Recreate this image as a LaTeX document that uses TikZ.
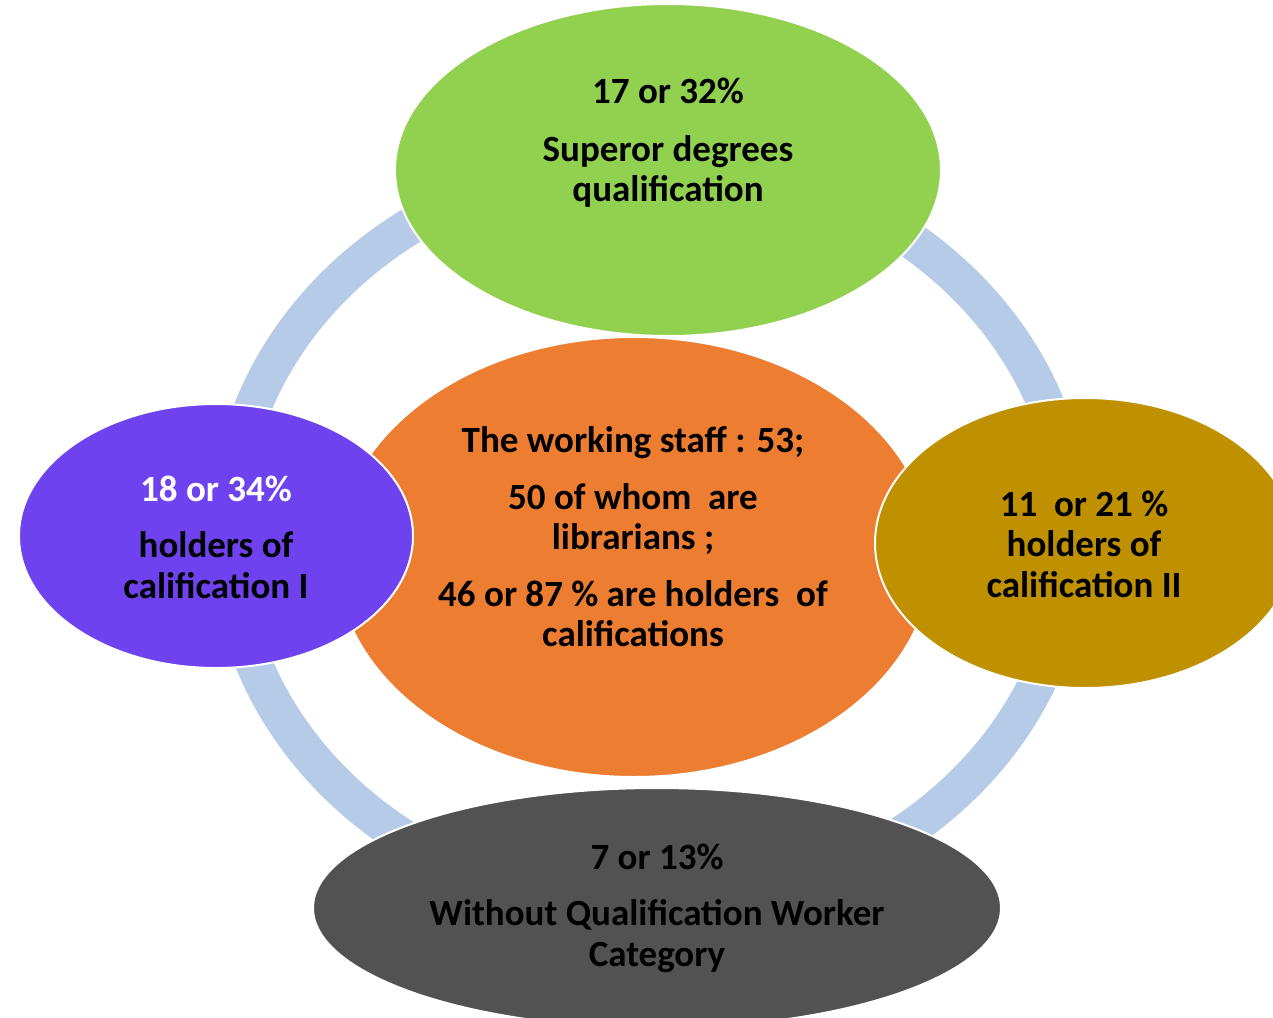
\documentclass[tikz,border=0pt]{standalone}
\usepackage{fontspec}
\setmainfont{Carlito}
\usetikzlibrary{shapes.geometric}
\definecolor{ringblue}{HTML}{B6CBE7}
\definecolor{cgreen}{HTML}{92D050}
\definecolor{corange}{HTML}{ED7D31}
\definecolor{cpurple}{HTML}{6F42EF}
\definecolor{cgold}{HTML}{BF9000}
\definecolor{cgray}{HTML}{525252}
\tikzset{
  bubble/.style={ellipse, draw=white, line width=2pt, inner sep=0pt},
  txt/.style={align=center, font=\bfseries\fontsize{37}{40.5}\selectfont, text=black, inner sep=0pt},
}
\begin{document}
\begin{tikzpicture}[x=1pt, y=-1pt]
\useasboundingbox (0,0) rectangle (1273,1017);
\clip (0,0) rectangle (1273,1017);
% ring
\draw[ringblue, line width=37pt] (650,534) ellipse [x radius=422, y radius=374];
% bubbles
\node[bubble, fill=corange, minimum width=596pt, minimum height=440pt] (orange) at (634,557) {};
\node[bubble, fill=cgreen, minimum width=546pt, minimum height=332pt] (green) at (668,170) {};
\node[bubble, fill=cpurple, minimum width=394pt, minimum height=264pt] (purple) at (216,536) {};
\node[bubble, fill=cgold, minimum width=420pt, minimum height=290pt] (gold) at (1085,543) {};
\node[bubble, fill=cgray, minimum width=688pt, minimum height=240pt] (gray) at (657,908) {};
% texts
\node[txt] (greentxt) at (668,143) {17 or 32\%\\[17pt] Superor degrees\\ qualification};
\node[txt] (orangetxt) at (633,537) {The working staff : 53;\\[16pt] 50 of whom\ \ are\\ librarians ;\\[16pt] 46 or 87 \% are holders\ \ of\\ califications};
\node[txt] (purpletxt) at (216,537) {\textcolor{white}{18 or 34\%}\\[16pt] holders of\\ calification I};
\node[txt] (goldtxt) at (1084,544) {11\ \ or 21 \%\\ holders of\\ calification II};
\node[txt] (graytxt) at (657,908) {7 or 13\%\\[16pt] Without Qualification Worker\\ Category};
\end{tikzpicture}
\end{document}
